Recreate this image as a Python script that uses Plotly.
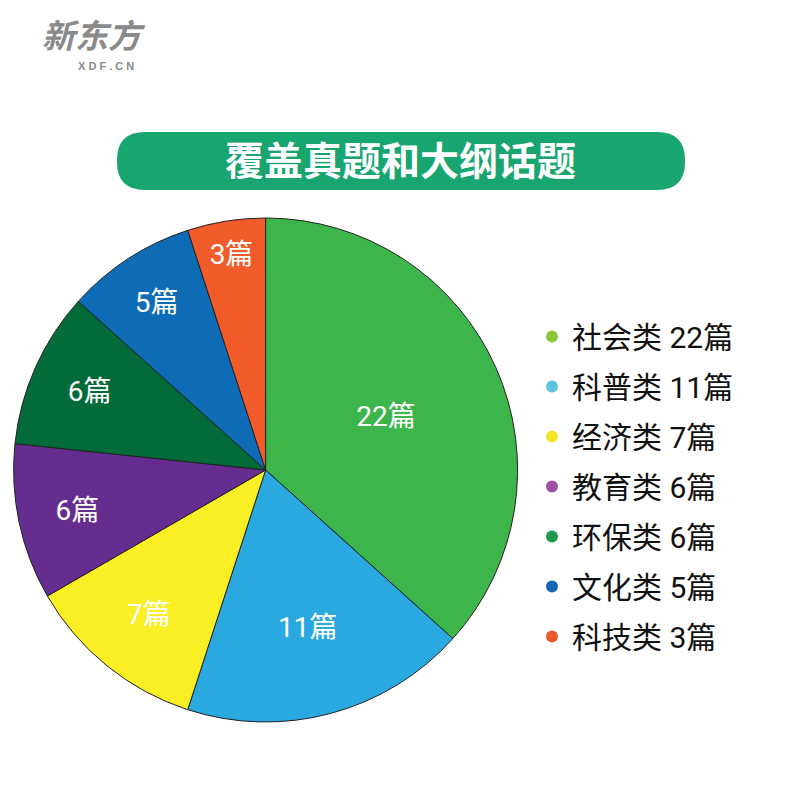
import plotly.graph_objects as go

categories = ["社会类", "科普类", "经济类", "教育类", "环保类", "文化类", "科技类"]
counts = [22, 11, 7, 6, 6, 5, 3]
unit = "篇"
pie_colors = ["#3cb64a", "#2aa9e1", "#faee24", "#662d91", "#036a39", "#0e6cb6", "#f15a29"]
legend_colors = ["#8cc63f", "#5cc5dc", "#f2e62b", "#a04ea6", "#1f9a4d", "#1565b5", "#e95a2b"]
title_text = "覆盖真题和大纲话题"

fig = go.Figure()

fig.add_trace(go.Pie(
    values=counts,
    labels=categories,
    text=[f"{c}{unit}" for c in counts],
    textinfo="text",
    textposition="inside",
    insidetextorientation="horizontal",
    textfont=dict(color="white", size=28, family="Roboto, Noto Sans CJK SC"),
    marker=dict(colors=pie_colors, line=dict(color="#222222", width=1)),
    sort=False,
    direction="clockwise",
    rotation=0,
    hole=0,
    showlegend=False,
    domain=dict(x=[0.016, 0.648], y=[0.0975, 0.7275]),
))

for i, (cat, c) in enumerate(zip(categories, counts)):
    fig.add_trace(go.Scatter(
        x=[None], y=[None], mode="markers",
        marker=dict(color=legend_colors[i], size=13, symbol="circle"),
        name=f"{cat} {c}{unit}",
        legendgroup=f"g{i}",
        showlegend=True,
    ))

fig.update_layout(
    width=800, height=800,
    margin=dict(l=0, r=0, t=0, b=0),
    paper_bgcolor="white", plot_bgcolor="white",
    xaxis=dict(visible=False), yaxis=dict(visible=False),
    legend=dict(
        x=0.665, y=0.612, xanchor="left", yanchor="top",
        font=dict(size=30, color="#111111", family="Roboto, Noto Sans CJK SC"),
        tracegroupgap=8, traceorder="grouped",
        itemsizing="constant", itemwidth=30,
        bgcolor="rgba(0,0,0,0)",
    ),
    shapes=[dict(
        type="path", xref="paper", yref="paper",
        path=("M 0.18125,0.835 L 0.82125,0.835 "
              "Q 0.85625,0.835 0.85625,0.8 L 0.85625,0.7975 "
              "Q 0.85625,0.7625 0.82125,0.7625 L 0.18125,0.7625 "
              "Q 0.14625,0.7625 0.14625,0.7975 L 0.14625,0.8 "
              "Q 0.14625,0.835 0.18125,0.835 Z"),
        fillcolor="#18a56f", line=dict(width=0), layer="below",
    )],
    annotations=[
        dict(text=f"<b>{title_text}</b>", x=0.5, y=0.803, xref="paper", yref="paper",
             xanchor="center", yanchor="middle",
             showarrow=False, font=dict(size=39, color="white", family="Noto Sans CJK SC")),
        dict(text="<b><i>新东方</i></b>", x=0.05, y=0.957, xref="paper", yref="paper",
             xanchor="left", yanchor="middle", showarrow=False,
             font=dict(size=33, color="#8a8a8a", family="Noto Sans CJK SC")),
        dict(text="<b>X D F . C N</b>", x=0.095, y=0.918, xref="paper", yref="paper",
             xanchor="left", yanchor="middle", showarrow=False,
             font=dict(size=11, color="#8a8a8a", family="Liberation Sans")),
    ],
)

fig.write_html("out.html")
